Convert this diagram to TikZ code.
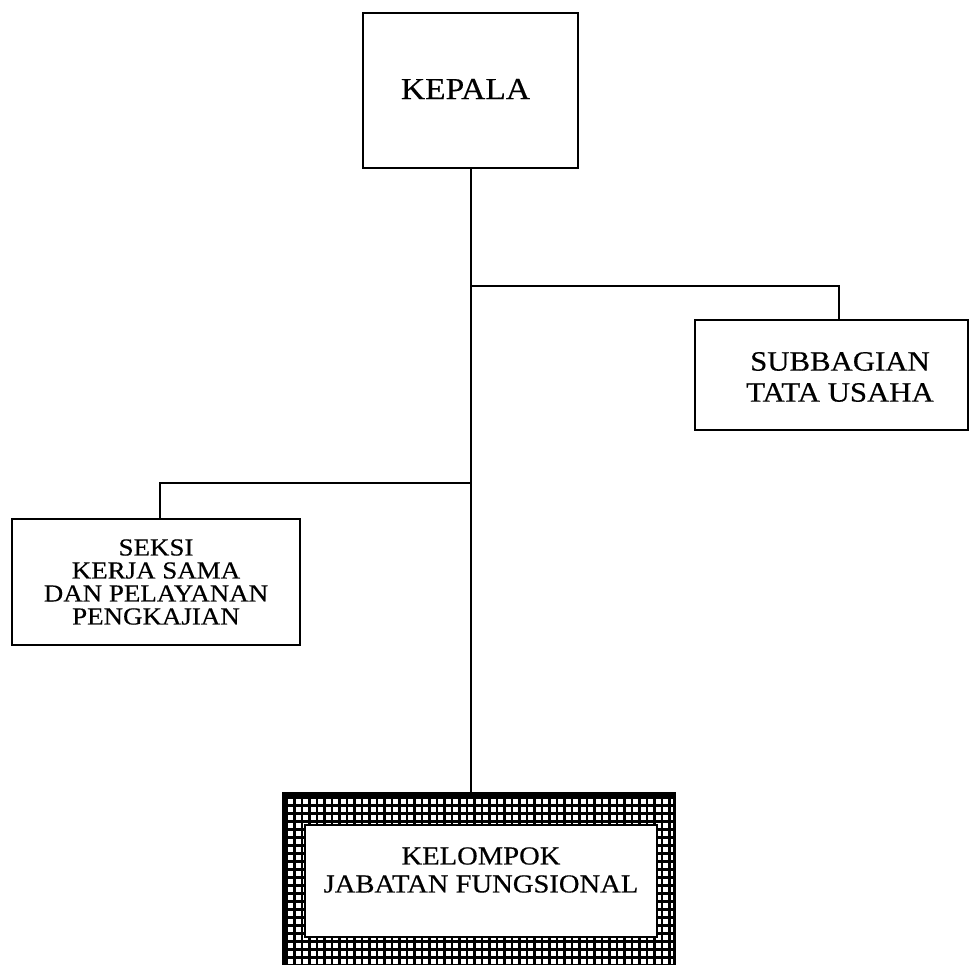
\documentclass[tikz,border=0pt]{standalone}
\usepackage{fontspec}
\setmainfont{Liberation Serif}[FakeStretch=1.1,FakeBold=0.4]
\begin{document}
\begin{tikzpicture}[x=1pt,y=-1pt,
  box/.style={draw, line width=1.8pt, inner sep=0pt, fill=white},
  lbl/.style={align=center, inner sep=0pt},
  conn/.style={line width=1.5pt}]
\useasboundingbox (0,0) rectangle (969,965);
% boxes
\node[box, minimum width=215pt, minimum height=155pt] (kepala) at (470.5,90.5) {};
\node[lbl, font=\fontsize{30.5}{31}\selectfont] (tkepala) at (465.5,89) {KEPALA};
\node[box, minimum width=273pt, minimum height=110pt] (sub) at (831.5,375) {};
\node[lbl, font=\fontsize{28}{31}\selectfont] (tsub) at (840,377) {SUBBAGIAN\\TATA USAHA};
\node[box, minimum width=288pt, minimum height=126pt] (seksi) at (156,582) {};
\node[lbl, font=\fontsize{24.5}{23}\selectfont] (tseksi) at (156,582) {SEKSI\\KERJA SAMA\\DAN PELAYANAN\\PENGKAJIAN};
% framed box with grid band
\node[draw, line width=2.5pt, inner sep=0pt, minimum width=388pt, minimum height=171pt] (kelout) at (479,880.5) {};
\begin{scope}
  \clip (285,795) rectangle (673,966);
  \fill[black] (285,795) rectangle (673,966);
  \foreach \i in {0,...,52} {
    \foreach \j in {0,...,21} {
      \fill[white] (288+\i*7.5, 798.5+\j*8) rectangle ++(5,5.5);
    }
  }
\end{scope}
\node[box, line width=2.2pt, minimum width=352pt, minimum height=112pt] (kelin) at (481,881) {};
\draw[line width=3pt] (kelout.north west) rectangle (kelout.south east);
\node[lbl, font=\fontsize{26}{28}\selectfont] (tkel) at (481,870) {KELOMPOK\\JABATAN FUNGSIONAL};
% connectors
\coordinate (j1) at (471,286);
\coordinate (j2) at (839,286);
\coordinate (j3) at (471,483);
\coordinate (j4) at (160,483);
\draw[conn] (kepala.south -| j1) -- (j1 |- kelout.north);
\draw[conn] (j1) -- (j2) -- (j2 |- sub.north);
\draw[conn] (j3) -- (j4) -- (j4 |- seksi.north);
\end{tikzpicture}
\end{document}
